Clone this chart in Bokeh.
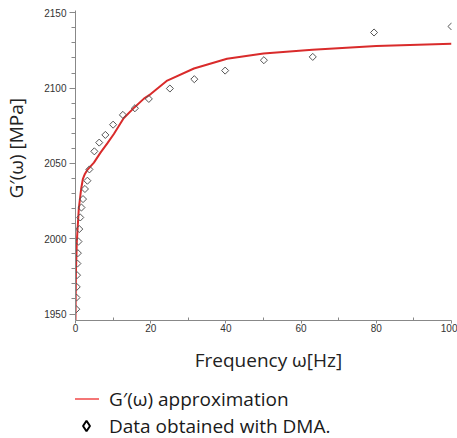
import math
from bokeh.plotting import figure
from bokeh.layouts import column
from bokeh.models import Range1d, Legend, LegendItem, FixedTicker
from bokeh.embed import file_html
from bokeh.resources import INLINE

# DMA measurements (frequency in Hz, storage modulus in MPa)
freq_hz = [0.2, 0.25, 0.32, 0.4, 0.5, 0.63, 0.79, 1.0, 1.26, 1.58, 2.0, 2.51, 3.16, 3.7,
           5.01, 6.31, 7.94, 10.0, 12.6, 15.8, 19.5, 25.1, 31.6, 39.8, 50.1, 63.1, 79.4, 100.0]
dma_mpa = [1953.2, 1960.9, 1968.0, 1975.8, 1983.5, 1990.4, 1998.1, 2006.4, 2014.1, 2020.7,
           2026.3, 2033.0, 2038.5, 2046.0, 2058.0, 2063.8, 2068.9, 2075.7, 2082.2, 2086.6,
           2092.8, 2099.7, 2105.9, 2111.6, 2118.5, 2120.7, 2136.9, 2140.9]

# Approximation curve
curve_hz = [0.0, 0.05, 0.12, 0.35, 0.88, 1.5, 1.95, 2.5, 3.1, 4.0, 4.9, 6.6, 8.5, 10.2,
            12.8, 15.8, 18.2, 20.0, 24.4, 31.5, 40.3, 50.0, 63.0, 80.0, 100.0]
curve_mpa = [1946.0, 1962.0, 1978.0, 1998.0, 2020.0, 2033.0, 2039.5, 2043.0, 2045.5, 2048.0,
             2050.5, 2057.0, 2063.5, 2069.5, 2080.0, 2087.5, 2093.0, 2096.0, 2105.0, 2113.0,
             2119.5, 2123.0, 2125.4, 2128.0, 2129.4]

x_ticks = [0, 20, 40, 60, 80, 100]
x_minor = [10, 30, 50, 70, 90]
y_ticks = [1950, 2000, 2050, 2100, 2150]
y_minor = [v for v in range(1950, 2151, 10) if v not in y_ticks]

NB = "\u00a0"

p = figure(width=457, height=378,
           x_range=Range1d(0, 100), y_range=Range1d(1945.7, 2151.5),
           output_backend="svg", toolbar_location=None,
           min_border_left=75, min_border_right=6, min_border_top=10, min_border_bottom=58)
p.grid.visible = False
p.outline_line_color = None
p.background_fill_color = "white"
p.border_fill_color = "white"

p.line(curve_hz, curve_mpa, line_color="#d92b2b", line_width=2)
p.scatter(freq_hz, dma_mpa, marker="square", angle=math.pi / 4, size=5,
          fill_color=None, line_color="#555555", line_width=1)

for ax in (p.xaxis[0], p.yaxis[0]):
    ax.axis_line_color = "#888888"
    ax.major_tick_line_color = "#888888"
    ax.minor_tick_line_color = "#888888"
    ax.major_label_text_font = "Liberation Sans"
    ax.major_label_text_font_size = "10px"
    ax.major_label_text_color = "#333333"
    ax.axis_label_text_font = "Open Sans"
    ax.axis_label_text_font_size = "19px"
    ax.axis_label_text_font_style = "normal"
    ax.axis_label_text_color = "#222222"

p.xaxis.ticker = FixedTicker(ticks=x_ticks, minor_ticks=x_minor)
p.yaxis.ticker = FixedTicker(ticks=y_ticks, minor_ticks=y_minor)
p.xaxis.axis_label = NB * 2 + "Frequency ω[Hz]"
p.yaxis.axis_label = NB * 7 + "G′(ω) [MPa]"
p.xaxis.major_tick_out = 3
p.xaxis.major_tick_in = 0
p.xaxis.minor_tick_in = 3
p.xaxis.minor_tick_out = 0
p.xaxis.major_label_standoff = 0
p.xaxis.axis_label_standoff = 12
p.yaxis.major_tick_out = 6
p.yaxis.major_tick_in = 0
p.yaxis.minor_tick_out = 4
p.yaxis.minor_tick_in = 0
p.yaxis.major_label_standoff = 3
p.yaxis.axis_label_standoff = 12

# Legend panel below the chart
lp = figure(width=457, height=60, x_range=Range1d(0, 1), y_range=Range1d(0, 1),
            x_axis_type=None, y_axis_type=None,
            output_backend="svg", toolbar_location=None,
            min_border_left=0, min_border_right=0, min_border_top=0, min_border_bottom=0)
lp.grid.visible = False
lp.outline_line_color = None
lp.background_fill_color = "white"
lp.border_fill_color = "white"

nan = float("nan")
leg_line = lp.line([nan], [nan], line_color="#f04848", line_width=1.5)
leg_diam = lp.scatter([nan], [nan], marker="diamond", size=12,
                      fill_color=None, line_color="black", line_width=2)

legend = Legend(items=[LegendItem(label="G′(ω) approximation", renderers=[leg_line]),
                       LegendItem(label="Data obtained with DMA.", renderers=[leg_diam])],
                location=(-2, -1), orientation="vertical")
legend.border_line_color = None
legend.background_fill_alpha = 0
legend.label_text_font = "Open Sans"
legend.label_text_font_size = "19px"
legend.label_text_color = "#1a1a1a"
legend.glyph_width = 26
legend.glyph_height = 27
legend.label_height = 27
legend.label_standoff = 10
legend.padding = 2
legend.margin = 0
legend.spacing = 0
lp.add_layout(legend, "center")

open("out.html", "w").write(file_html(column(p, lp), INLINE))
